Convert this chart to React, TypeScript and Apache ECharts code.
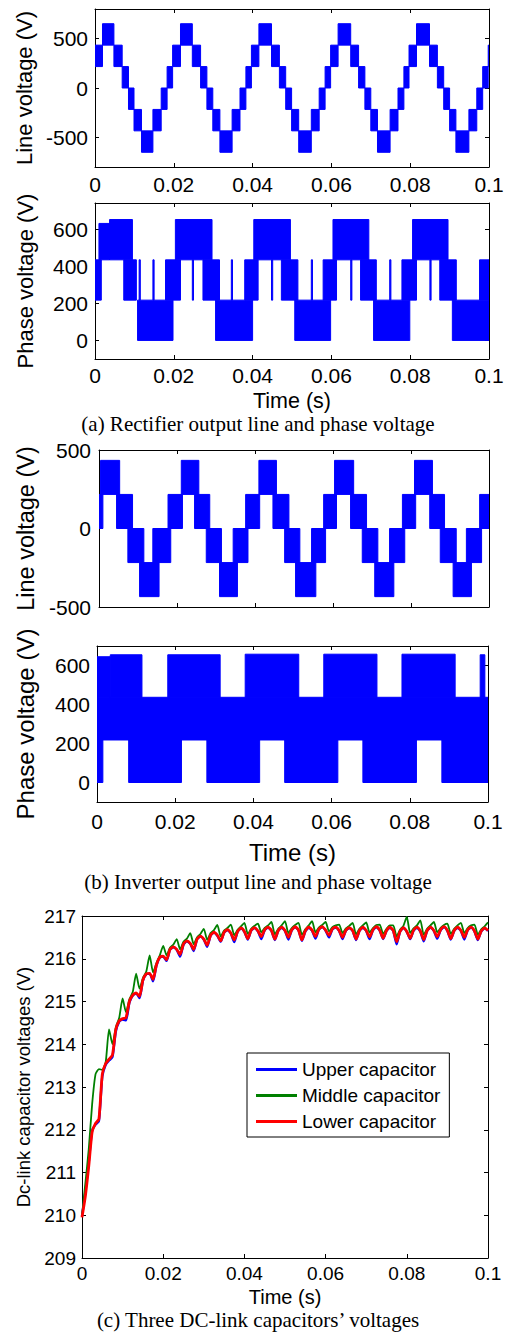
import React, { useEffect, useRef } from "react";
import * as echarts from "echarts";

const SANS = '"Liberation Sans", Arial, Helvetica, sans-serif';
const SERIF = '"Liberation Serif", "Times New Roman", serif';
const BLUE = "#0000ff";
const GREEN = "#008000";
const RED = "#ff0000";

// Switching bands: [start (s), end (s), low (V), high (V)]
const rectifierLineBands: number[][] = [
  [0.0, 0.0019, 217, 434], [0.0019, 0.0048, 434, 651], [0.0048, 0.0069, 217, 434],
  [0.0069, 0.0085, 0, 217], [0.0085, 0.0099, -217, 0], [0.0099, 0.0118, -434, -217],
  [0.0118, 0.0147, -651, -434], [0.0147, 0.0168, -434, -217], [0.0168, 0.0183, -217, 0],
  [0.0183, 0.0197, 0, 217], [0.0197, 0.0217, 217, 434],
  [0.0217, 0.0247, 434, 651], [0.0247, 0.0268, 217, 434], [0.0268, 0.0284, 0, 217],
  [0.0284, 0.0299, -217, 0], [0.0299, 0.0317, -434, -217], [0.0317, 0.0348, -651, -434],
  [0.0348, 0.0368, -434, -217], [0.0368, 0.0383, -217, 0], [0.0383, 0.0397, 0, 217],
  [0.0397, 0.0416, 217, 434],
  [0.0416, 0.0448, 434, 651], [0.0448, 0.0468, 217, 434], [0.0468, 0.0484, 0, 217],
  [0.0484, 0.0499, -217, 0], [0.0499, 0.0517, -434, -217], [0.0517, 0.0549, -651, -434],
  [0.0549, 0.0569, -434, -217], [0.0569, 0.0584, -217, 0], [0.0584, 0.0598, 0, 217],
  [0.0598, 0.0617, 217, 434],
  [0.0617, 0.0649, 434, 651], [0.0649, 0.0669, 217, 434], [0.0669, 0.0685, 0, 217],
  [0.0685, 0.07, -217, 0], [0.07, 0.0717, -434, -217], [0.0717, 0.0749, -651, -434],
  [0.0749, 0.0769, -434, -217], [0.0769, 0.0784, -217, 0], [0.0784, 0.0797, 0, 217],
  [0.0797, 0.0816, 217, 434],
  [0.0816, 0.0849, 434, 651], [0.0849, 0.0869, 217, 434], [0.0869, 0.0885, 0, 217],
  [0.0885, 0.09, -217, 0], [0.09, 0.0916, -434, -217], [0.0916, 0.0949, -651, -434],
  [0.0949, 0.0969, -434, -217], [0.0969, 0.0984, -217, 0], [0.0984, 0.0998, 0, 217],
  [0.0998, 0.1, 217, 434],
];

const rectifierPhaseBands: number[][] = [
  [0.0, 0.0016, 217, 434], [0.001, 0.0037, 434, 630], [0.0037, 0.0095, 434, 651],
  [0.0073, 0.0105, 217, 434], [0.0108, 0.0198, 0, 217],
  [0.0112, 0.0115, 217, 434], [0.0147, 0.015, 217, 434],
  [0.0179, 0.0217, 217, 434], [0.0204, 0.0297, 434, 651], [0.0247, 0.025, 217, 434],
  [0.0274, 0.0316, 217, 434], [0.0306, 0.04, 0, 217], [0.0346, 0.0349, 217, 434],
  [0.038, 0.0414, 217, 434], [0.0403, 0.0496, 434, 651], [0.0448, 0.0451, 217, 434],
  [0.0473, 0.0515, 217, 434], [0.0507, 0.0598, 0, 217], [0.0549, 0.0552, 217, 434],
  [0.0579, 0.0613, 217, 434], [0.0604, 0.0695, 434, 651], [0.0649, 0.0652, 217, 434],
  [0.0674, 0.0714, 217, 434], [0.0707, 0.0799, 0, 217], [0.0748, 0.0751, 217, 434],
  [0.0779, 0.0816, 217, 434], [0.0806, 0.0896, 434, 651], [0.085, 0.0853, 217, 434],
  [0.0875, 0.0917, 217, 434], [0.0907, 0.1, 0, 217], [0.0976, 0.1, 217, 434],
];

const inverterLineBands: number[][] = [
  [0.0, 0.001, 0, 217], [0.0004, 0.0053, 217, 434], [0.0045, 0.0086, 0, 217],
  [0.0074, 0.0115, -217, 0], [0.0104, 0.0154, -434, -217], [0.0138, 0.0184, -217, 0],
  [0.0177, 0.0214, 0, 217], [0.0211, 0.0256, 217, 434], [0.0245, 0.0284, 0, 217],
  [0.0275, 0.0314, -217, 0], [0.0309, 0.0355, -434, -217], [0.0344, 0.0382, -217, 0],
  [0.0376, 0.0412, 0, 217], [0.041, 0.0455, 217, 434], [0.0446, 0.0487, 0, 217],
  [0.0476, 0.0515, -217, 0], [0.0504, 0.0556, -434, -217], [0.0545, 0.0581, -217, 0],
  [0.0576, 0.0609, 0, 217], [0.0604, 0.0653, 217, 434], [0.0645, 0.0686, 0, 217],
  [0.0675, 0.0715, -217, 0], [0.0707, 0.0756, -434, -217], [0.0745, 0.0784, -217, 0],
  [0.0778, 0.0812, 0, 217], [0.0809, 0.0855, 217, 434], [0.0848, 0.0886, 0, 217],
  [0.0875, 0.0916, -217, 0], [0.0908, 0.0955, -434, -217], [0.0942, 0.0981, -217, 0],
  [0.0976, 0.1, 0, 217],
];

const inverterPhaseBands: number[][] = [
  [0.0, 0.1, 218, 437],
  [0.0, 0.0034, 437, 645], [0.0034, 0.0115, 437, 655], [0.0181, 0.0315, 437, 655],
  [0.0379, 0.0516, 437, 658], [0.058, 0.0716, 437, 658], [0.078, 0.0916, 437, 658],
  [0.098, 0.0992, 437, 655],
  [0.0, 0.0015, 0, 218], [0.0081, 0.0216, 0, 218], [0.0281, 0.0416, 0, 218],
  [0.048, 0.0616, 0, 218], [0.068, 0.0817, 0, 218], [0.0882, 0.1, 0, 218],
];

// DC-link capacitor voltages sampled every 1/1200 s from 0 to 0.1 s
const CAP_DT = 1 / 1200;
const upperCap = [
  209.98, 210.55, 211.25, 211.98, 212.12, 212.2, 213.25, 213.52, 213.62, 213.7,
  214.3, 214.53, 214.58, 214.56, 214.97, 215.14, 215.19, 215.08, 215.48, 215.64,
  215.65, 215.47, 215.84, 216.03, 216.05, 215.95, 216.21, 216.27, 216.21, 216.05,
  216.33, 216.41, 216.35, 216.18, 216.45, 216.52, 216.45, 216.28, 216.54, 216.61,
  216.54, 216.4, 216.61, 216.67, 216.59, 216.39, 216.63, 216.71, 216.63, 216.45,
  216.66, 216.72, 216.64, 216.46, 216.67, 216.73, 216.65, 216.44, 216.65, 216.73,
  216.65, 216.45, 216.67, 216.74, 216.66, 216.42, 216.64, 216.73, 216.66, 216.47,
  216.68, 216.74, 216.66, 216.5, 216.69, 216.73, 216.65, 216.46, 216.66, 216.72,
  216.65, 216.44, 216.65, 216.73, 216.65, 216.46, 216.67, 216.74, 216.66, 216.46,
  216.65, 216.73, 216.65, 216.34, 216.63, 216.72, 216.63, 216.46, 216.66, 216.73,
  216.64, 216.41, 216.65, 216.73, 216.65, 216.47, 216.67, 216.74, 216.65, 216.45,
  216.65, 216.73, 216.65, 216.45, 216.67, 216.73, 216.64, 216.44, 216.64, 216.71,
  216.65,
];
const middleCap = [
  210.0, 210.75, 211.55, 212.6, 213.3, 213.42, 213.4, 213.58, 214.35, 214.0,
  214.4, 214.62, 215.07, 214.75, 215.05, 215.22, 215.65, 215.3, 215.55, 215.7,
  216.08, 215.68, 215.9, 216.08, 216.3, 216.08, 216.26, 216.33, 216.46, 216.22,
  216.4, 216.47, 216.6, 216.34, 216.5, 216.58, 216.7, 216.44, 216.6, 216.67,
  216.79, 216.52, 216.66, 216.72, 216.8, 216.55, 216.68, 216.76, 216.84, 216.58,
  216.7, 216.77, 216.82, 216.62, 216.72, 216.78, 216.86, 216.57, 216.7, 216.78,
  216.88, 216.6, 216.72, 216.79, 216.84, 216.56, 216.69, 216.78, 216.88, 216.62,
  216.73, 216.79, 216.86, 216.64, 216.74, 216.78, 216.8, 216.6, 216.71, 216.77,
  216.84, 216.57, 216.7, 216.78, 216.85, 216.61, 216.72, 216.79, 216.8, 216.58,
  216.7, 216.78, 216.78, 216.52, 216.68, 216.77, 216.98, 216.6, 216.71, 216.78,
  216.9, 216.56, 216.7, 216.78, 216.86, 216.62, 216.72, 216.79, 216.82, 216.58,
  216.7, 216.78, 216.84, 216.6, 216.72, 216.78, 216.8, 216.56, 216.69, 216.76,
  216.85,
];
const lowerCap = [
  209.95, 210.45, 211.15, 211.95, 212.15, 212.25, 213.3, 213.55, 213.65, 213.75,
  214.35, 214.55, 214.6, 214.62, 215.0, 215.15, 215.2, 215.12, 215.5, 215.65,
  215.66, 215.52, 215.86, 216.04, 216.06, 215.98, 216.22, 216.28, 216.22, 216.1,
  216.35, 216.42, 216.36, 216.22, 216.46, 216.53, 216.46, 216.32, 216.55, 216.62,
  216.55, 216.42, 216.62, 216.68, 216.6, 216.44, 216.64, 216.72, 216.64, 216.47,
  216.67, 216.73, 216.65, 216.52, 216.68, 216.74, 216.66, 216.46, 216.66, 216.74,
  216.66, 216.5, 216.68, 216.75, 216.67, 216.44, 216.65, 216.74, 216.67, 216.52,
  216.69, 216.75, 216.67, 216.55, 216.7, 216.74, 216.66, 216.5, 216.67, 216.73,
  216.66, 216.46, 216.66, 216.74, 216.66, 216.51, 216.68, 216.75, 216.67, 216.48,
  216.66, 216.74, 216.66, 216.4, 216.64, 216.73, 216.64, 216.48, 216.67, 216.74,
  216.65, 216.45, 216.66, 216.74, 216.66, 216.52, 216.68, 216.75, 216.66, 216.47,
  216.66, 216.74, 216.66, 216.5, 216.68, 216.74, 216.65, 216.46, 216.65, 216.72,
  216.66,
];

const capNames = ["Upper capacitor", "Middle capacitor", "Lower capacitor"];

const grids = [
  { left: 95, top: 9, width: 394, height: 158 },
  { left: 95, top: 203, width: 394, height: 156 },
  { left: 99, top: 450, width: 390, height: 157 },
  { left: 97, top: 646, width: 391, height: 156 },
  { left: 82, top: 916, width: 406, height: 342 },
];

const fmtTime = (v: number) => String(parseFloat(v.toFixed(2)));

const axisLine = { onZero: false, lineStyle: { color: "#000", width: 1 } };
const tickStyle = { inside: true, length: 4, lineStyle: { color: "#000", width: 1 } };

function timeAxes(
  gridIndex: number,
  o: { labels: boolean; fontSize?: number; margin?: number; name?: string; nameSize?: number; nameGap?: number }
) {
  const common = {
    type: "value",
    gridIndex,
    min: 0,
    max: 0.1,
    interval: 0.02,
    splitLine: { show: false },
    axisLine,
    axisTick: tickStyle,
  };
  return [
    {
      ...common,
      position: "bottom",
      axisLabel: {
        show: o.labels,
        fontSize: o.fontSize,
        fontFamily: SANS,
        color: "#000",
        margin: o.margin,
        formatter: fmtTime,
      },
      name: o.name,
      nameLocation: "middle",
      nameGap: o.nameGap,
      nameTextStyle: { fontSize: o.nameSize, fontFamily: SANS, color: "#000" },
    },
    { ...common, position: "top", axisLabel: { show: false } },
  ];
}

function valueAxes(
  gridIndex: number,
  o: {
    min: number; max: number; interval?: number; ticks?: number[];
    fontSize: number; margin: number; name: string; nameSize: number; nameGap: number;
  }
) {
  const tickExtra = o.ticks ? { customValues: o.ticks } : {};
  const common: any = {
    type: "value",
    gridIndex,
    min: o.min,
    max: o.max,
    splitLine: { show: false },
    axisLine,
    axisTick: { ...tickStyle, ...tickExtra },
  };
  if (o.interval) common.interval = o.interval;
  return [
    {
      ...common,
      position: "left",
      axisLabel: {
        fontSize: o.fontSize,
        fontFamily: SANS,
        color: "#000",
        margin: o.margin,
        ...tickExtra,
      },
      name: o.name,
      nameLocation: "middle",
      nameGap: o.nameGap,
      nameTextStyle: { fontSize: o.nameSize, fontFamily: SANS, color: "#000" },
    },
    { ...common, position: "right", axisLabel: { show: false } },
  ];
}

function bandSeries(axisIndex: number, bands: number[][]) {
  return {
    type: "custom",
    xAxisIndex: axisIndex,
    yAxisIndex: axisIndex,
    clip: true,
    encode: { x: [0, 1], y: [2, 3] },
    data: bands,
    renderItem: (_params: any, api: any) => {
      const a = api.coord([api.value(0), api.value(3)]);
      const b = api.coord([api.value(1), api.value(2)]);
      return {
        type: "rect",
        shape: { x: a[0], y: a[1], width: b[0] - a[0], height: b[1] - a[1] },
        style: { fill: BLUE, stroke: BLUE, lineWidth: 1 },
      };
    },
  };
}

function capSeries(name: string, values: number[], color: string, width: number) {
  return {
    type: "line",
    name,
    xAxisIndex: 8,
    yAxisIndex: 8,
    data: values.map((v, i) => [i * CAP_DT, v]),
    symbol: "none",
    smooth: 0.2,
    lineStyle: { color, width },
    itemStyle: { color },
  };
}

function caption(text: string, y: number) {
  return {
    type: "text",
    x: 258,
    y,
    style: {
      text,
      font: `21px ${SERIF}`,
      fill: "#000",
      align: "center",
      verticalAlign: "middle",
      textAlign: "center",
      textVerticalAlign: "middle",
    },
  };
}

function buildOption() {
  return {
    animation: false,
    backgroundColor: "#fff",
    grid: grids.map((g) => ({ ...g, show: false })),
    xAxis: [
      ...timeAxes(0, { labels: true, fontSize: 21, margin: 7 }),
      ...timeAxes(1, { labels: true, fontSize: 21, margin: 6, name: "Time (s)", nameSize: 21.5, nameGap: 31 }),
      ...timeAxes(2, { labels: false }),
      ...timeAxes(3, { labels: true, fontSize: 21, margin: 9, name: "Time (s)", nameSize: 24, nameGap: 38 }),
      ...timeAxes(4, { labels: true, fontSize: 19, margin: 6, name: "Time (s)", nameSize: 20, nameGap: 29 }),
    ],
    yAxis: [
      ...valueAxes(0, { min: -800, max: 800, ticks: [-500, 0, 500], fontSize: 21, margin: 7, name: "Line voltage (V)", nameSize: 22, nameGap: 58 }),
      ...valueAxes(1, { min: -100, max: 740, ticks: [0, 200, 400, 600], fontSize: 21, margin: 7, name: "Phase voltage (V)", nameSize: 22, nameGap: 59 }),
      ...valueAxes(2, { min: -500, max: 500, interval: 500, fontSize: 21, margin: 8, name: "Line voltage (V)", nameSize: 23.5, nameGap: 58 }),
      ...valueAxes(3, { min: -100, max: 700, ticks: [0, 200, 400, 600], fontSize: 21, margin: 7, name: "Phase voltage (V)", nameSize: 24, nameGap: 60 }),
      ...valueAxes(4, { min: 209, max: 217, interval: 1, fontSize: 19, margin: 6, name: "Dc-link capacitor voltages (V)", nameSize: 18.5, nameGap: 48 }),
    ],
    legend: {
      orient: "vertical",
      left: 247,
      top: 1053,
      padding: [7, 9, 6, 9],
      icon: "rect",
      itemWidth: 41,
      itemHeight: 3,
      itemGap: 7,
      borderColor: "#000",
      borderWidth: 1,
      backgroundColor: "#fff",
      selectedMode: false,
      textStyle: { fontSize: 19, fontFamily: SANS, color: "#000" },
      data: capNames,
    },
    series: [
      bandSeries(0, rectifierLineBands),
      bandSeries(2, rectifierPhaseBands),
      bandSeries(4, inverterLineBands),
      bandSeries(6, inverterPhaseBands),
      capSeries(capNames[0], upperCap, BLUE, 2.4),
      capSeries(capNames[1], middleCap, GREEN, 1.8),
      capSeries(capNames[2], lowerCap, RED, 2.8),
    ],
    graphic: [
      caption("(a) Rectifier output line and phase voltage", 424),
      caption("(b) Inverter output line and phase voltage", 882),
      caption("(c) Three DC-link capacitors\u2019 voltages", 1320),
    ],
  };
}

export default function App() {
  const ref = useRef<HTMLDivElement>(null);
  useEffect(() => {
    if (!ref.current) return;
    const chart = echarts.init(ref.current, null, { renderer: "svg" });
    chart.setOption(buildOption() as any);
    return () => chart.dispose();
  }, []);
  return (
    <div
      ref={ref}
      style={{ position: "absolute", left: 0, top: 0, width: 511, height: 1332, background: "#fff" }}
    />
  );
}
